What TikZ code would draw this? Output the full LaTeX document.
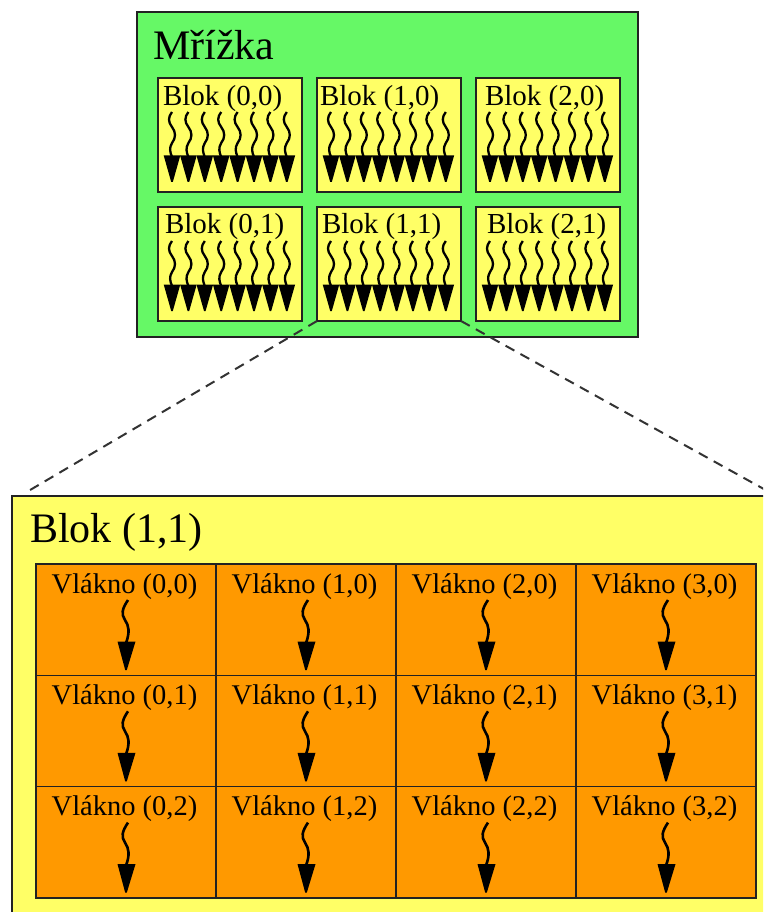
\documentclass[tikz,border=0pt]{standalone}
\usepackage{fontspec}
\setmainfont{Liberation Serif}
\definecolor{gridgreen}{RGB}{102,248,102}
\definecolor{blockyellow}{RGB}{255,255,102}
\definecolor{threadorange}{RGB}{255,153,0}
\definecolor{edgecol}{RGB}{34,34,34}
\definecolor{dashcol}{RGB}{51,51,51}
\begin{document}
\begin{tikzpicture}[x=1pt,y=-1pt,
  box/.style={draw=edgecol, line width=1.7pt, inner sep=0pt, outer sep=0pt, anchor=north west},
  gridbox/.style={box, fill=gridgreen, minimum width=501pt, minimum height=325pt},
  sblock/.style={box, fill=blockyellow, minimum width=144pt, minimum height=114pt},
  bigblock/.style={box, fill=blockyellow, minimum width=765pt, minimum height=440pt},
  cellbox/.style={box, fill=threadorange, minimum width=180pt, minimum height=111.3pt, line width=1.5pt},
  label/.style={inner sep=0pt, outer sep=0pt},
  zoomline/.style={draw=dashcol, line width=2pt, dash pattern=on 10pt off 7pt},
  pics/sthread/.style={code={
    \draw[line width=2.3pt] (0,0) .. controls (-4,5) and (-4,10) .. (0,15)
      .. controls (4,20) and (4,26) .. (0,31) .. controls (-3,36) and (-2,40) .. (0,45);
    \fill (-8.3,43.5) -- (8.3,43.5) -- (0.8,70) -- (-0.8,70) -- cycle;
  }},
  pics/cthread/.style={code={
    \draw[line width=2.6pt] (1,0) .. controls (-5,9) and (-6,14) .. (-2,20)
      .. controls (2,26) and (3,32) .. (-1,43);
    \fill (-9.5,41.5) -- (8.5,41.5) -- (-0.2,70) -- (-1.8,70) -- cycle;
  }}
]
\useasboundingbox (0,0) rectangle (763,912);
\clip (0,0) rectangle (763,912);
\fill[white] (0,0) rectangle (763,912);

% Grid
\node[gridbox] (grid) at (137,12) {};
\node[label, anchor=base west, font=\fontsize{42}{48}\selectfont] (gridtitle) at (153,60) {Mřížka};

\foreach \i/\x/\dx in {0/158/5,1/317/3,2/476/9}{
  \foreach \j/\y/\by in {0/78/106,1/207/233}{
    \node[sblock] (b\i\j) at (\x,\y) {};
    \node[label, anchor=base west, font=\fontsize{29}{34}\selectfont] (bl\i\j) at (\x+\dx+2*\j,\by) {Blok (\i,\j)};
    \foreach \k in {0,...,7}{
      \pic at (\x+14+16.4*\k,\y+34) {sthread};
    }
  }
}

% Enlarged block
\node[bigblock] (big) at (12,496) {};
\node[label, anchor=base west, font=\fontsize{42}{48}\selectfont] (bigtitle) at (30,542) {Blok (1,1)};

\foreach \i in {0,1,2,3}{
  \foreach \j in {0,1,2}{
    \node[cellbox] (c\i\j) at (36+180*\i,564+111.3*\j) {};
    \node[label, anchor=base, font=\fontsize{28.5}{34}\selectfont] (cl\i\j) at (124.5+180*\i,593+111.3*\j) {Vlákno (\i,\j)};
    \pic at (127+180*\i,600+111.3*\j) {cthread};
  }
}

% Zoom lines
\coordinate (lend) at (25,493);
\coordinate (rend) at (771,493);
\draw[zoomline] (b11.south west) -- (lend);
\draw[zoomline] (b11.south east) -- (rend);
\end{tikzpicture}
\end{document}
